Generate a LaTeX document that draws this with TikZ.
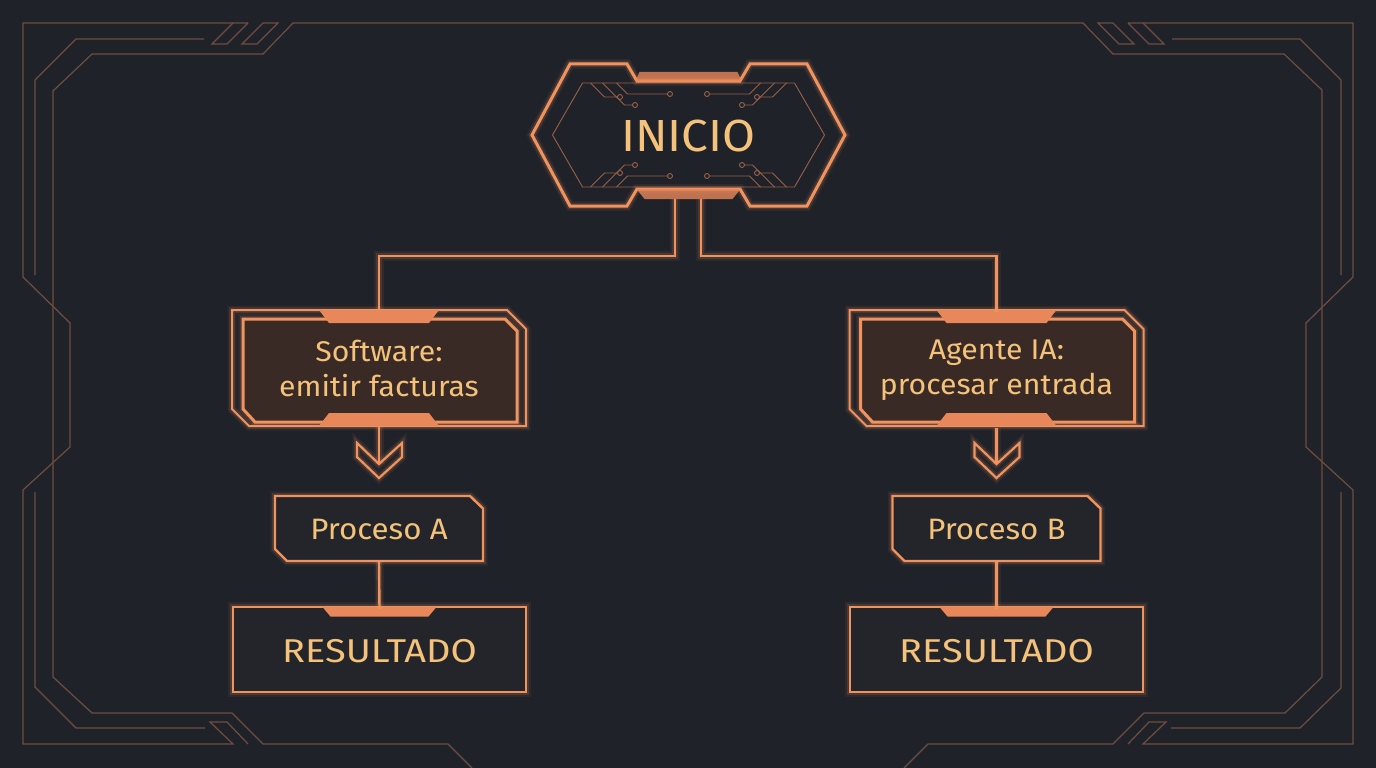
\documentclass[tikz,border=0pt]{standalone}
\usepackage{fontspec}
\setmainfont{Fira Sans}
\newfontfamily\wideA[FakeStretch=1.06]{Fira Sans}
\newfontfamily\wideB[FakeStretch=1.15]{Fira Sans}
\usetikzlibrary{calc}
\definecolor{bg}{HTML}{1F2229}
\definecolor{neon}{HTML}{F0935F}
\definecolor{neonfill}{HTML}{E8875A}
\definecolor{gold}{HTML}{F4C27A}
\definecolor{framec}{HTML}{6F4E40}
\definecolor{tracec}{HTML}{9A6048}
\definecolor{boxfill}{HTML}{3A2A26}
\definecolor{smallfill}{HTML}{23252B}
\tikzset{
  neonline/.style={draw=neon, line width=#1, line join=miter,
     preaction={draw=neon, line width=#1+7, draw opacity=0.07},
     preaction={draw=neon, line width=#1+3.5, draw opacity=0.15}},
  neonline/.default=2.4,
  tabfill/.style={fill=neonfill},
  framel/.style={draw=framec, line width=1.2, line join=miter},
  tracel/.style={draw=tracec, line width=0.9},
  lbl/.style={text=gold, inner sep=0pt, align=center},
  bigbox/.pic={
    \path[fill=boxfill, neonline=3] (-136,-49) -- (126,-49) -- (138,-37) -- (138,54) -- (-124,54) -- (-136,41) -- cycle;
    \path[neonline=2] (-147,-58) -- (128,-58) -- (147,-39) -- (147,58) -- (-130,58) -- (-147,41) -- cycle;
    \fill[tabfill] (-60,-58) -- (60,-58) -- (50,-45) -- (-50,-45) -- cycle;
    \fill[tabfill] (-50,45) -- (50,45) -- (60,58) -- (-60,58) -- cycle;
  },
  smallbox/.pic={
    \path[fill=smallfill, neonline=2.4] (-104,-32.5) -- (91,-32.5) -- (104,-20) -- (104,32.5) -- (-92,32.5) -- (-104,20.5) -- cycle;
  },
  resbox/.pic={
    \path[fill=smallfill, neonline=2.4] (-146.5,-42.5) rectangle (146.5,42.5);
    \fill[tabfill] (-57,-42.5) -- (57,-42.5) -- (49,-33) -- (-49,-33) -- cycle;
  },
  chevron/.pic={
    \path[neonline=2.2] (-22,0) -- (-22,14) -- (0,35) -- (23,14) -- (23,0) -- (0,21) -- cycle;
  },
}
\begin{document}
\begin{tikzpicture}[x=1pt,y=-1pt]
\useasboundingbox (0,0) rectangle (1376,768);
\fill[bg] (0,0) rectangle (1376,768);

% ---------- decorative frame ----------
\draw[framel] (472,768) -- (448,744) -- (263,744) -- (232,713) -- (92,713) -- (53,677) -- (53,91) -- (92,54) -- (263,54) -- (293,23)
  -- (1083,23) -- (1113,54) -- (1284,54) -- (1322,90) -- (1322,677) -- (1285,713) -- (1144,713) -- (1113,744) -- (928,744) -- (904,768);
\draw[framel] (248,23) -- (23,23) -- (23,277) -- (70,323) -- (70,447) -- (23,490) -- (23,744) -- (233,744) -- (210,722) -- (227,722) -- (248,744);
\draw[framel] (233,23) -- (212,44) -- (227,44) -- (248,23);
\draw[framel] (263,23) -- (278,23) -- (257,44) -- (242,44) -- cycle;
\draw[framel] (1128,23) -- (1353,23) -- (1353,277) -- (1306,323) -- (1306,447) -- (1353,490) -- (1353,744) -- (1143,744) -- (1166,722) -- (1149,722) -- (1128,744);
\draw[framel] (1143,23) -- (1164,44) -- (1149,44) -- (1128,23);
\draw[framel] (1113,23) -- (1098,23) -- (1119,44) -- (1134,44) -- cycle;
\draw[framel] (204,39) -- (76,39) -- (35,80) -- (35,275);
\draw[framel] (35,492) -- (35,687) -- (76,728) -- (205,728);
\draw[framel] (1172,39) -- (1300,39) -- (1341,80) -- (1341,275);
\draw[framel] (1341,492) -- (1341,688) -- (1300,728) -- (1171,728);

% ---------- INICIO ----------
\begin{scope}[shift={(688.5,135)}]
  \draw[tracel] (-136,0) -- (-106,-52) -- (106,-52) -- (136,0) -- (106,52) -- (-106,52) -- cycle;
  \foreach \sx/\sy in {1/1,-1/1,1/-1,-1/-1}{
    \begin{scope}[xscale=\sx, yscale=\sy]
      \draw[tracel] (-98,-52) -- (-84,-38) -- (-71,-38);
      \draw[tracel] (-68.5,-38) circle[radius=2.5];
      \draw[tracel] (-86,-52) -- (-64,-30) -- (-56,-30);
      \draw[tracel] (-53.5,-30) circle[radius=2.5];
      \draw[tracel] (-72,-52) -- (-61,-41) -- (-21,-41);
      \draw[tracel] (-18.5,-41) circle[radius=2.5];
    \end{scope}
  }
  \path[neonline=3] (-156.5,0) -- (-118.5,-71) -- (-61.5,-71) -- (-51.5,-54) -- (51.5,-54) -- (61.5,-71) -- (118.5,-71) -- (156.5,0)
     -- (118.5,71) -- (61.5,71) -- (51.5,54) -- (-51.5,54) -- (-61.5,71) -- (-118.5,71) -- cycle;
  \fill[tabfill, opacity=0.8] (-53,-54) -- (53,-54) -- (49,-63) -- (-49,-63) -- cycle;
  \fill[tabfill, opacity=0.8] (-52,54) -- (52,54) -- (44,64) -- (-44,64) -- cycle;
\end{scope}
\node[lbl, font=\wideA\fontsize{45}{54}\selectfont, minimum width=313, minimum height=142] (inicio) at (688.5,136) {INICIO};
\coordinate (stemL) at (675,199);
\coordinate (stemR) at (701,199);

% ---------- left branch ----------
\pic at (379,368) {bigbox};
\node[lbl, font=\wideA\fontsize{28.5}{35}\selectfont, minimum width=294, minimum height=116] (sw) at (379,368) {Software:\\emitir facturas};
\pic at (379,443) {chevron};
\coordinate (chevA) at (379,464);
\pic at (379,528.5) {smallbox};
\node[lbl, font=\wideA\fontsize{29.5}{35}\selectfont, minimum width=208, minimum height=65] (pa) at (379,529.5) {Proceso A};
\pic at (379.5,649.5) {resbox};
\node[lbl, font=\wideB\fontsize{33}{40}\selectfont, minimum width=293, minimum height=85] (ra) at (379.5,651.5) {RESULTADO};

% ---------- right branch ----------
\pic at (996.5,368) {bigbox};
\node[lbl, font=\wideA\fontsize{28.5}{35}\selectfont, minimum width=294, minimum height=116] (ag) at (996.5,370) {Agente IA:\\procesar entrada};
\pic at (996.5,443) {chevron};
\coordinate (chevB) at (996.5,464);
\pic at (996.5,528.5) {smallbox};
\node[lbl, font=\wideA\fontsize{29.5}{35}\selectfont, minimum width=208, minimum height=65] (pb) at (996.5,529.5) {Proceso B};
\pic at (996.5,649.5) {resbox};
\node[lbl, font=\wideB\fontsize{33}{40}\selectfont, minimum width=293, minimum height=85] (rb) at (996.5,651.5) {RESULTADO};

% ---------- connectors ----------
\path[neonline=2.4] (stemL) -- ++(0,57) -| (sw.north);
\path[neonline=2.4] (stemR) -- ++(0,57) -| (ag.north);
\path[neonline=2.4] (sw.south) -- (chevA);
\path[neonline=2.4] (ag.south) -- (chevB);
\path[neonline=2.4] (pa.south) -- (ra.north);
\path[neonline=2.4] (pb.south) -- (rb.north);
\end{tikzpicture}
\end{document}
